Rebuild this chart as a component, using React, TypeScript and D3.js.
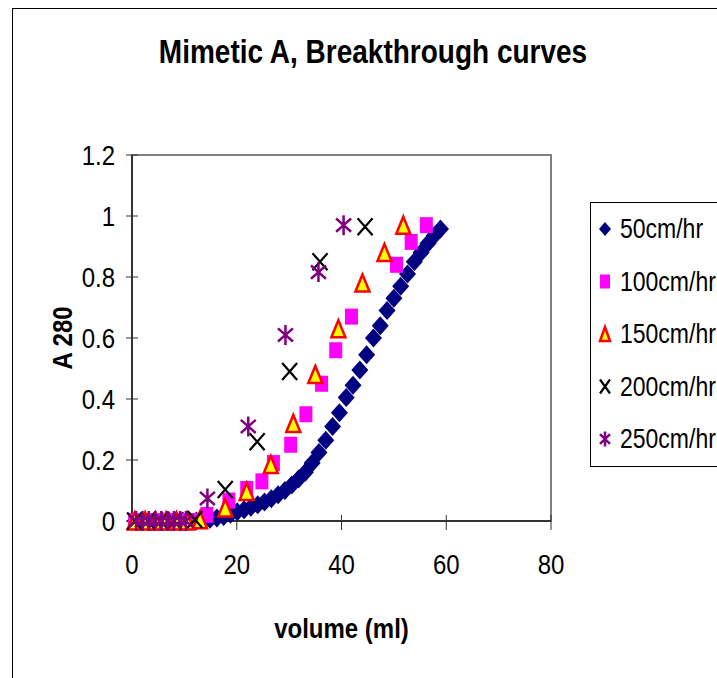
import * as d3 from 'd3';

// 50cm/hr
const vol50 = [0.6, 1.9, 3.2, 4.5, 5.8, 7.1, 8.4, 9.7, 11.0, 12.3, 13.6, 14.9, 16.2, 17.5, 18.8, 20.1, 21.4, 22.7, 24.0, 25.3, 26.6, 27.9, 29.2, 30.5, 31.8, 33.1, 34.4, 35.7, 37.0, 38.3, 39.6, 40.9, 42.2, 43.5, 44.8, 46.1, 47.4, 48.7, 50.0, 51.3, 52.6, 53.9, 55.2, 56.5, 57.7, 58.9];
const abs50 = [0, 0, 0, 0, 0, 0, 0, 0, 0, 0, 0.003, 0.006, 0.01, 0.015, 0.022, 0.03, 0.037, 0.045, 0.053, 0.062, 0.073, 0.086, 0.1, 0.118, 0.138, 0.16, 0.19, 0.225, 0.265, 0.31, 0.355, 0.405, 0.445, 0.495, 0.545, 0.6, 0.64, 0.69, 0.73, 0.77, 0.81, 0.85, 0.88, 0.91, 0.935, 0.957];

// 100cm/hr
const vol100 = [0.5, 1.9, 3.3, 4.7, 6.1, 7.5, 8.9, 10.3, 11.7, 12.8, 14.3, 18.5, 21.9, 24.8, 27.0, 30.3, 33.2, 36.2, 38.9, 41.9, 50.5, 53.3, 56.2];
const abs100 = [0, 0, 0, 0, 0, 0, 0, 0, 0, 0, 0.02, 0.067, 0.105, 0.13, 0.19, 0.25, 0.35, 0.45, 0.56, 0.67, 0.84, 0.915, 0.97];

// 150cm/hr
const vol150 = [0.5, 2.5, 4.5, 6.5, 8.5, 10.5, 13.0, 17.8, 21.9, 26.5, 30.8, 35.0, 39.4, 44.0, 48.2, 51.8];
const abs150 = [0, 0, 0, 0, 0, 0, 0.004, 0.043, 0.097, 0.185, 0.32, 0.48, 0.63, 0.78, 0.88, 0.97];

// 200cm/hr
const vol200 = [0.5, 3.0, 5.5, 8.0, 12.0, 17.8, 23.9, 30.1, 35.9, 44.5];
const abs200 = [0, 0, 0, 0, 0.005, 0.103, 0.26, 0.49, 0.85, 0.965];

// 250cm/hr
const vol250 = [0.8, 2.0, 3.2, 4.4, 5.6, 6.8, 8.0, 9.2, 10.3, 14.4, 22.2, 29.3, 35.6, 40.4];
const abs250 = [0, 0, 0, 0, 0, 0, 0, 0, 0, 0.074, 0.31, 0.61, 0.816, 0.97];

const seriesNames = ['50cm/hr', '100cm/hr', '150cm/hr', '200cm/hr', '250cm/hr'];
const xTicks = [0, 20, 40, 60, 80];
const yTicks = [0, 0.2, 0.4, 0.6, 0.8, 1, 1.2];

const W = 717;
const H = 678;
const plot = { left: 132, right: 551, top: 155, bottom: 521 };
const font = '"Liberation Sans", Arial, sans-serif';
const stretch = 1.17; // reference text is taller than it is wide

function T(props: { x: number; y: number; size: number; anchor?: string; bold?: boolean; rotate?: number; sx?: number; children: any }) {
  const { x, y, size, anchor = 'start', bold = false, rotate = 0, sx = 1, children } = props;
  return (
    <text transform={`translate(${x},${y}) rotate(${rotate}) scale(${sx},${stretch})`} textAnchor={anchor}
      fontSize={size} fontWeight={bold ? 'bold' : 'normal'} dy="0.35em">
      {children}
    </text>
  );
}

function marker(kind: number, w: number, h: number, key: string, cx: number, cy: number) {
  const t = `translate(${cx},${cy})`;
  if (kind === 0) {
    return <path key={key} transform={t} d={`M0,${-h / 2}L${w / 2},0L0,${h / 2}L${-w / 2},0Z`} fill="#000080" />;
  }
  if (kind === 1) {
    return <rect key={key} transform={t} x={-w / 2} y={-h / 2} width={w} height={h} fill="#FF00FF" />;
  }
  if (kind === 2) {
    return (
      <path key={key} transform={t} d={`M0,${-h / 2}L${w / 2},${h / 2}L${-w / 2},${h / 2}Z`}
        fill="#FFFF00" stroke="#FF0000" strokeWidth={2.5} strokeLinejoin="miter" />
    );
  }
  if (kind === 3) {
    return (
      <path key={key} transform={t}
        d={`M${-w / 2},${-h / 2}L${w / 2},${h / 2}M${w / 2},${-h / 2}L${-w / 2},${h / 2}`}
        stroke="#000" strokeWidth={2.2} fill="none" />
    );
  }
  return (
    <path key={key} transform={t}
      d={`M0,${-h / 2}L0,${h / 2}M${-w / 2},${-h * 0.33}L${w / 2},${h * 0.33}M${w / 2},${-h * 0.33}L${-w / 2},${h * 0.33}`}
      stroke="#800080" strokeWidth={2.5} fill="none" />
  );
}

export default function App() {
  const x = d3.scaleLinear().domain([0, 80]).range([plot.left, plot.right]);
  const y = d3.scaleLinear().domain([0, 1.2]).range([plot.bottom, plot.top]);

  const series = [
    { vol: vol50, abs: abs50, w: 17, h: 19 },
    { vol: vol100, abs: abs100, w: 13, h: 16 },
    { vol: vol150, abs: abs150, w: 14, h: 17 },
    { vol: vol200, abs: abs200, w: 15, h: 17 },
    { vol: vol250, abs: abs250, w: 15, h: 20 },
  ];

  const legendX = 590;
  const legendY = 202;

  return (
    <svg width={W} height={H} style={{ position: 'absolute', left: 0, top: 0, background: '#fff' }} fontFamily={font}>
      <rect x={12.5} y={8.5} width={W + 20} height={H + 20} fill="#fff" stroke="#000" strokeWidth={1} />

      <T x={373} y={52} size={28} anchor="middle" bold>Mimetic A, Breakthrough curves</T>

      {/* plot frame */}
      <rect x={plot.left} y={plot.top} width={plot.right - plot.left} height={plot.bottom - plot.top}
        fill="none" stroke="#808080" strokeWidth={2} />
      <line x1={plot.left} x2={plot.left} y1={plot.top} y2={plot.bottom} stroke="#333" strokeWidth={2} />
      <line x1={plot.left} x2={plot.right} y1={plot.bottom} y2={plot.bottom} stroke="#333" strokeWidth={2} />

      {yTicks.map(t => (
        <g key={'y' + t}>
          <line x1={plot.left - 6} x2={plot.left + 6} y1={y(t)} y2={y(t)} stroke="#333" strokeWidth={1} />
          <T x={115} y={y(t)} size={24} anchor="end">{String(+t.toFixed(1))}</T>
        </g>
      ))}
      {xTicks.map(t => (
        <g key={'x' + t}>
          <line x1={x(t)} x2={x(t)} y1={plot.bottom - 6} y2={plot.bottom + 9} stroke="#333" strokeWidth={1} />
          <T x={x(t)} y={564} size={24} anchor="middle">{t}</T>
        </g>
      ))}

      <T x={(plot.left + plot.right) / 2} y={628} size={24} anchor="middle" bold>volume (ml)</T>
      <T x={62} y={(plot.top + plot.bottom) / 2} size={24} anchor="middle" bold rotate={-90}>A 280</T>

      {series.map((s, si) => (
        <g key={'s' + si}>
          {s.vol.map((v, i) => marker(si, s.w, s.h, `m${si}-${i}`, x(v), y(s.abs[i])))}
        </g>
      ))}

      {/* legend */}
      <rect x={legendX + 0.5} y={legendY + 0.5} width={200} height={264} fill="#fff" stroke="#000" strokeWidth={1} />
      {seriesNames.map((name, i) => {
        const cy = 229 + i * 52.5;
        return (
          <g key={'l' + i}>
            {marker(i, i === 0 ? 12 : 10, i === 4 ? 15 : 14, 'lm' + i, 605, cy)}
            <T x={620} y={cy} size={23}>{name}</T>
          </g>
        );
      })}
    </svg>
  );
}
